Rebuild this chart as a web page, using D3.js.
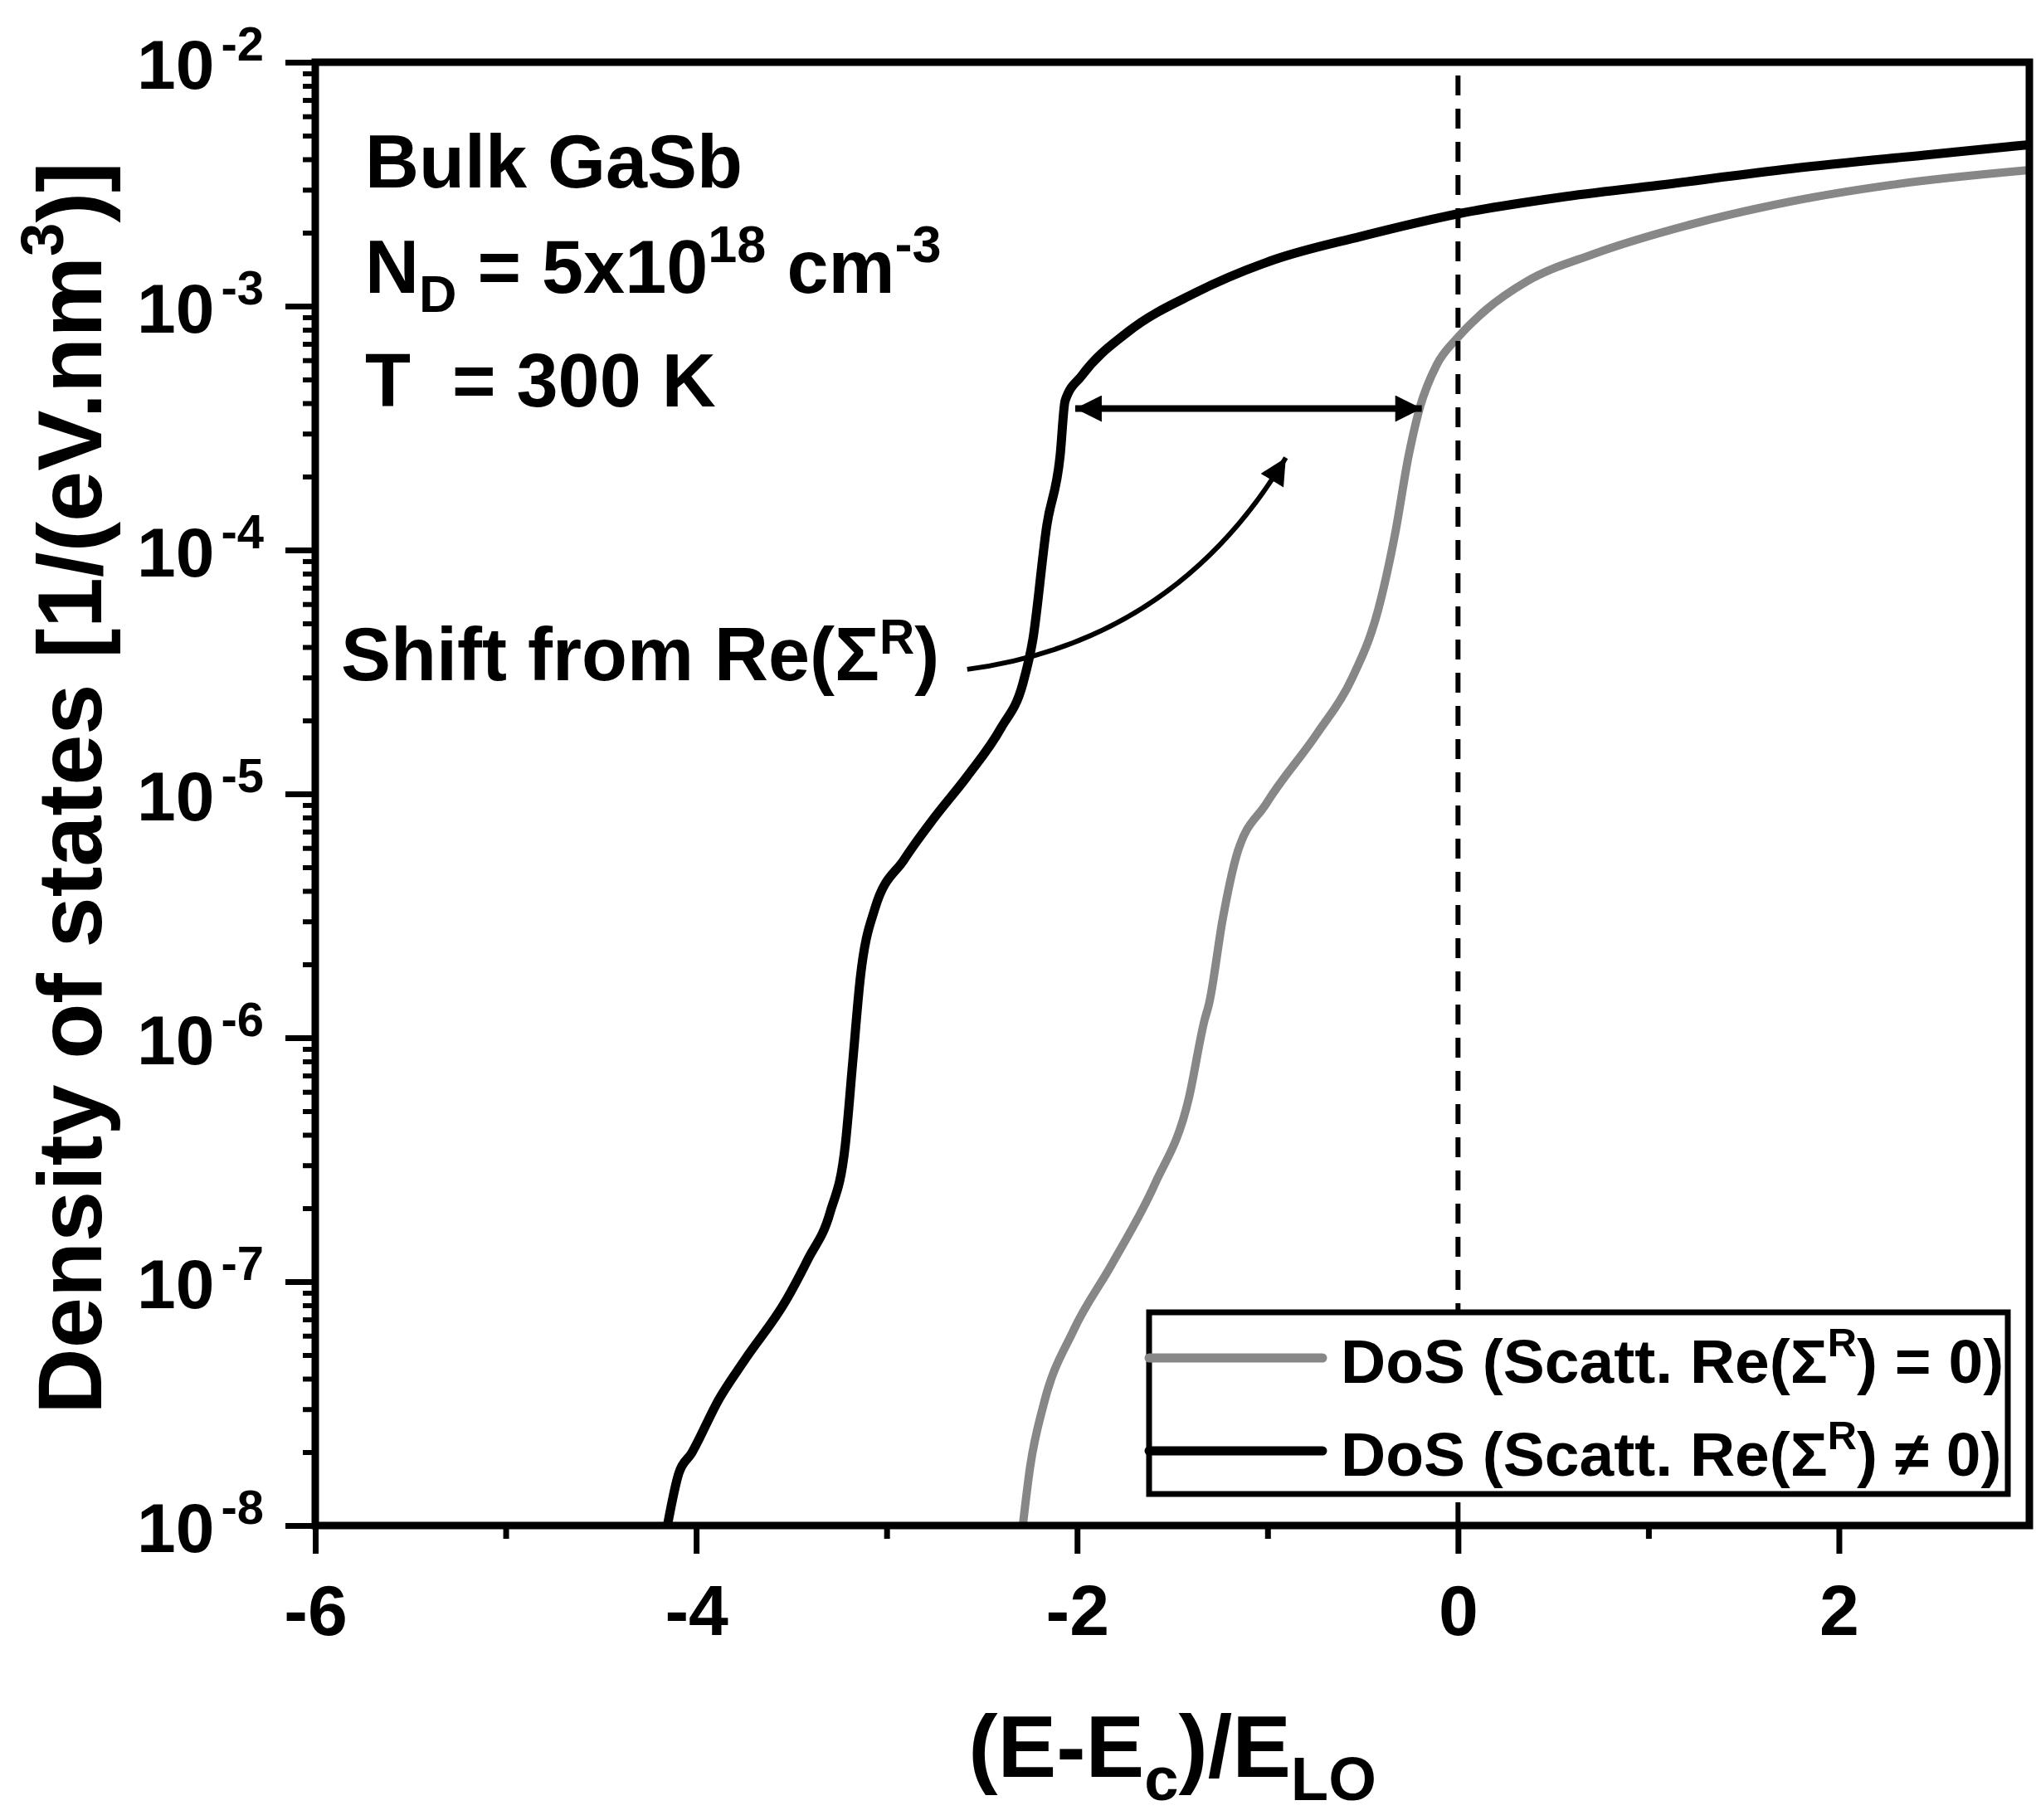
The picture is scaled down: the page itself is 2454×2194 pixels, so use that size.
<!DOCTYPE html>
<html>
<head>
<meta charset="utf-8">
<script src="https://cdn.jsdelivr.net/npm/d3@7"></script>
<style>
  body { margin: 0; background: #fff; }
  text { font-family: "Liberation Sans", Arial, Helvetica, sans-serif; font-weight: bold; fill: #000; }
</style>
</head>
<body>
<svg id="chart"></svg>
<script>
// values: (E-Ec)/ELO and DoS in 1/(eV.nm^3)
const energyRe0 = [-2.285, -2.246, -2.178, -2.019, -1.82, -1.592, -1.414, -1.331, -1.307, -1.235,
  -1.165, -1.004, -0.739, -0.56, -0.419, -0.329, -0.259, -0.199, -0.112, 0.0,
  0.149, 0.359, 0.707, 1.23, 1.753, 2.275, 3.0];
const dosRe0 = [1.0e-8, 1.75e-8, 3.09e-8, 6.31e-8, 1.17e-7, 2.51e-7, 5.62e-7, 1.18e-6, 1.38e-6, 3.08e-6,
  5.51e-6, 9.18e-6, 1.77e-5, 2.94e-5, 5.69e-5, 1.18e-4, 2.44e-4, 3.87e-4, 5.74e-4, 7.45e-4,
  9.68e-4, 1.26e-3, 1.63e-3, 2.17e-3, 2.69e-3, 3.14e-3, 3.61e-3];

const energyReNz = [-4.151, -4.092, -4.024, -3.879, -3.744, -3.528, -3.412, -3.296, -3.217, -3.178,
  -3.139, -3.062, -2.908, -2.751, -2.577, -2.4, -2.285, -2.233, -2.159, -2.089,
  -2.063, -1.976, -1.732, -1.383, -0.965, -0.512, 0.0, 0.533, 1.056, 1.753, 2.449, 3.0];
const dosReNz = [1.0e-8, 1.63e-8, 1.98e-8, 3.31e-8, 4.79e-8, 8.38e-8, 1.24e-7, 1.93e-7, 3.64e-7, 7.96e-7,
  1.74e-6, 3.38e-6, 5.38e-6, 7.96e-6, 1.18e-5, 1.86e-5, 2.83e-5, 4.26e-5, 1.26e-4, 2.44e-4,
  4.09e-4, 5.18e-4, 7.85e-4, 1.13e-3, 1.55e-3, 1.93e-3, 2.39e-3, 2.79e-3, 3.13e-3, 3.66e-3, 4.16e-3, 4.59e-3];

const xMajorTicks = [-6, -4, -2, 0, 2];
const xMinorTicks = [-5, -3, -1, 1];
const yExponents = [-2, -3, -4, -5, -6, -7, -8];

// shift arrow and curved pointer (data coordinates)
const shiftArrowE = [-2.01, -0.19];
const shiftArrowDos = 3.8e-4;
const pointerE = [-2.577, -1.486, -0.904]; // start, control, tip
const pointerDos = [3.24e-5, 4.2e-5, 2.39e-4];

const W = 2454, H = 2194;
const margin = { top: 75, right: 8, bottom: 355, left: 380 };

const svg = d3.select("#chart").attr("width", W).attr("height", H);

const x = d3.scaleLinear().domain([-6, 3]).range([margin.left, W - margin.right]);
const y = d3.scaleLog().domain([1e-8, 1e-2]).range([H - margin.bottom, margin.top]);

// text with sub/superscripts: parts = [text, shift, scale, dx]
function richText(parent, parts, size) {
  const t = parent.append("text").attr("font-size", size).style("white-space", "pre");
  let cur = 0;
  parts.forEach(([str, shift = 0, scale = 1, dx = 0]) => {
    t.append("tspan")
      .attr("dy", shift - cur)
      .attr("dx", dx)
      .attr("font-size", size * scale)
      .text(str);
    cur = shift;
  });
  return t;
}

const defs = svg.append("defs");
defs.append("clipPath").attr("id", "plot-clip")
  .append("rect")
  .attr("x", margin.left).attr("y", margin.top)
  .attr("width", x.range()[1] - x.range()[0])
  .attr("height", y.range()[0] - y.range()[1]);

defs.append("marker")
  .attr("id", "head")
  .attr("viewBox", "0 0 10 10")
  .attr("refX", 10).attr("refY", 5)
  .attr("markerUnits", "userSpaceOnUse")
  .attr("markerWidth", 56).attr("markerHeight", 32)
  .attr("orient", "auto-start-reverse")
  .append("path")
  .attr("d", "M0,0 L10,5 L0,10 Z")
  .attr("fill", "#000");

// curves
const line = d3.line().x(d => x(d[0])).y(d => y(d[1])).curve(d3.curveMonotoneX);
const curves = svg.append("g").attr("clip-path", "url(#plot-clip)");

curves.append("path")
  .datum(d3.zip(energyRe0, dosRe0))
  .attr("d", line)
  .attr("fill", "none")
  .attr("stroke", "#878787")
  .attr("stroke-width", 10)
  .attr("stroke-linejoin", "round");

curves.append("path")
  .datum(d3.zip(energyReNz, dosReNz))
  .attr("d", line)
  .attr("fill", "none")
  .attr("stroke", "#000")
  .attr("stroke-width", 11)
  .attr("stroke-linejoin", "round");

// dashed line at E = Ec
svg.append("line")
  .attr("x1", x(0)).attr("x2", x(0))
  .attr("y1", y(1e-2)).attr("y2", y(1e-8))
  .attr("stroke", "#000")
  .attr("stroke-width", 6)
  .attr("stroke-dasharray", "24,16")
  .attr("stroke-dashoffset", 24);

// shift arrows
svg.append("line")
  .attr("x1", x(shiftArrowE[0])).attr("x2", x(shiftArrowE[1]))
  .attr("y1", y(shiftArrowDos)).attr("y2", y(shiftArrowDos))
  .attr("stroke", "#000")
  .attr("stroke-width", 8)
  .attr("marker-start", "url(#head)")
  .attr("marker-end", "url(#head)");

const p = d3.path();
p.moveTo(x(pointerE[0]), y(pointerDos[0]));
p.quadraticCurveTo(x(pointerE[1]), y(pointerDos[1]), x(pointerE[2]), y(pointerDos[2]));
svg.append("path")
  .attr("d", p.toString())
  .attr("fill", "none")
  .attr("stroke", "#000")
  .attr("stroke-width", 6)
  .attr("marker-end", "url(#head)");

// legend
const legend = svg.append("g");
legend.append("rect")
  .attr("x", 1385).attr("y", 1582)
  .attr("width", 1035).attr("height", 219)
  .attr("fill", "#fff")
  .attr("stroke", "#000")
  .attr("stroke-width", 7);

[
  { color: "#878787", y: 1637, rel: "=" },
  { color: "#000", y: 1749, rel: "\u2260" }
].forEach(item => {
  legend.append("line")
    .attr("x1", 1385).attr("x2", 1594)
    .attr("y1", item.y).attr("y2", item.y)
    .attr("stroke", item.color)
    .attr("stroke-width", 11)
    .attr("stroke-linecap", "round");
  richText(legend, [["DoS (Scatt. Re(\u03A3"], ["R", -32, 0.65], [") " + item.rel + " 0)"]], 75)
    .attr("x", 1616).attr("y", item.y + 30);
});

// frame
svg.append("rect")
  .attr("x", x(-6)).attr("y", y(1e-2))
  .attr("width", x(3) - x(-6))
  .attr("height", y(1e-8) - y(1e-2))
  .attr("fill", "none")
  .attr("stroke", "#000")
  .attr("stroke-width", 9);

// x axis
const xAxis = svg.append("g")
  .attr("transform", `translate(0,${y(1e-8)})`)
  .call(d3.axisBottom(x).tickValues(xMajorTicks).tickSize(34).tickSizeOuter(0)
    .tickPadding(37).tickFormat(d => String(d)));
xAxis.select(".domain").remove();
xAxis.selectAll(".tick line").attr("stroke-width", 7);
xAxis.selectAll(".tick text").attr("font-size", 86).attr("font-family", null);

const xMinor = svg.append("g")
  .attr("transform", `translate(0,${y(1e-8)})`)
  .call(d3.axisBottom(x).tickValues(xMinorTicks).tickSize(16).tickSizeOuter(0).tickFormat(""));
xMinor.select(".domain").remove();
xMinor.selectAll(".tick line").attr("stroke-width", 7);

// y axis
const yMinorValues = [];
yExponents.slice(1).forEach(e => {
  for (let k = 2; k <= 9; k++) yMinorValues.push(k * Math.pow(10, e));
});

const yAxis = svg.append("g")
  .attr("transform", `translate(${x(-6)},0)`)
  .call(d3.axisLeft(y).tickValues(yExponents.map(e => Math.pow(10, e)))
    .tickSize(36).tickSizeOuter(0).tickFormat(""));
yAxis.select(".domain").remove();
yAxis.selectAll(".tick line").attr("stroke-width", 7);

const yMinor = svg.append("g")
  .attr("transform", `translate(${x(-6)},0)`)
  .call(d3.axisLeft(y).tickValues(yMinorValues).tickSize(15).tickSizeOuter(0).tickFormat(""));
yMinor.select(".domain").remove();
yMinor.selectAll(".tick line").attr("stroke-width", 6);

yExponents.forEach(e => {
  richText(svg, [["10"], [String(e), -34, 0.69, 8]], 84)
    .attr("x", 318)
    .attr("y", y(Math.pow(10, e)) + 32)
    .attr("text-anchor", "end");
});

// axis titles
richText(svg, [["(E-E"], ["c", 28, 0.7], [")/E"], ["LO", 28, 0.7]], 106)
  .attr("x", (x(-6) + x(3)) / 2)
  .attr("y", 2142)
  .attr("text-anchor", "middle");

richText(svg, [["Density of states [1/(eV.nm"], ["3", -46, 0.66], [")]"]], 110)
  .attr("transform", "translate(122,950) rotate(-90)")
  .attr("text-anchor", "middle");

// annotations
richText(svg, [["Bulk GaSb"]], 90).attr("x", 440).attr("y", 226);
richText(svg, [["N"], ["D", 23, 0.7], [" = 5x10"], ["18", -37, 0.7], [" cm"], ["-3", -37, 0.7]], 90)
  .attr("x", 440).attr("y", 353);
richText(svg, [["T  = 300 K"]], 90).attr("x", 440).attr("y", 490);
richText(svg, [["Shift from Re(\u03A3"], ["R", -32, 0.65], [")"]], 90)
  .attr("x", 411).attr("y", 820);
</script>
</body>
</html>
